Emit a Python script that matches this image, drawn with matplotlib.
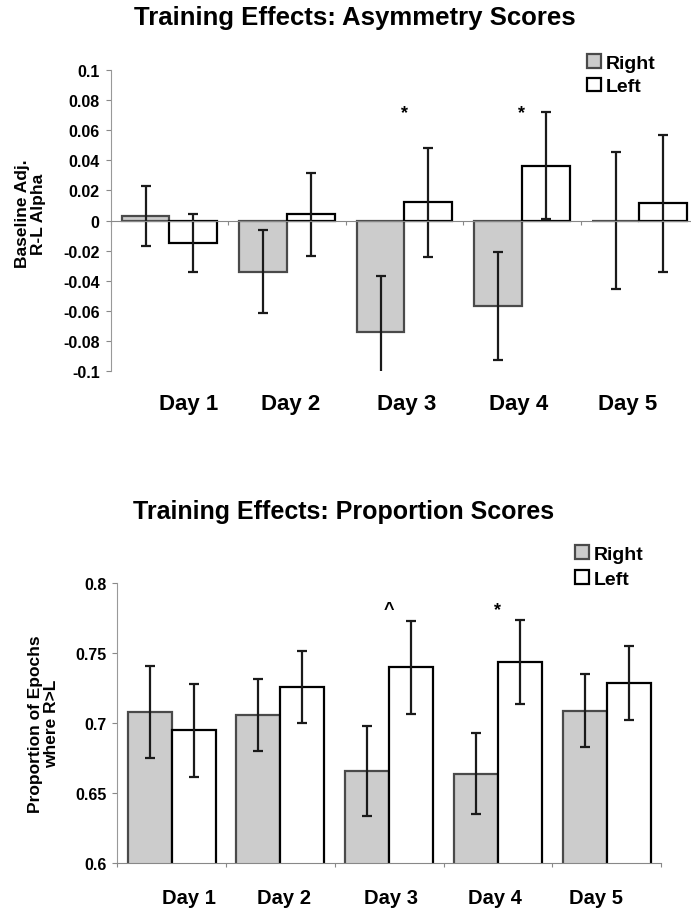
import numpy as np
import matplotlib
matplotlib.use('Agg')
import matplotlib.pyplot as plt
from matplotlib.ticker import FuncFormatter

plt.rcParams['font.family'] = ['Liberation Sans', 'DejaVu Sans']
plt.rcParams['font.weight'] = 'bold'
plt.rcParams['axes.labelweight'] = 'bold'

# data
days = ['Day 1', 'Day 2', 'Day 3', 'Day 4', 'Day 5']
series = ['Right', 'Left']

asym_right = [0.003, -0.034, -0.074, -0.057, 0.0]
asym_right_err = [0.020, 0.0275, 0.037, 0.036, 0.0455]
asym_left = [-0.015, 0.004, 0.012, 0.0365, 0.0115]
asym_left_err = [0.0195, 0.0275, 0.0365, 0.0355, 0.0455]
asym_marks = ['', '', '*', '*', '']
asym_ticks = [0.1, 0.08, 0.06, 0.04, 0.02, 0, -0.02, -0.04, -0.06, -0.08, -0.1]

prop_right = [0.708, 0.706, 0.666, 0.664, 0.709]
prop_right_err = [0.033, 0.026, 0.032, 0.029, 0.026]
prop_left = [0.695, 0.726, 0.740, 0.744, 0.729]
prop_left_err = [0.033, 0.026, 0.033, 0.030, 0.0265]
prop_marks = ['', '', '^', '*', '']
prop_ticks = [0.8, 0.75, 0.7, 0.65, 0.6]

GREY = '#cccccc'
W = 0.405


def fmt(v, pos):
    if abs(v) < 1e-9:
        return '0'
    return f'{round(v, 3):g}'


def draw(ax, right, rerr, left, lerr, marks, mark_y, ticks, ylabel,
         label_y, day_size):
    x = np.arange(len(days))
    ekw = dict(ecolor='#1a1a1a', elinewidth=1.6, capsize=3.5, capthick=1.6)
    ax.bar(x - W / 2, right, W, yerr=rerr, color=GREY, edgecolor='#4a4a4a',
           linewidth=1.6, error_kw=ekw, label=series[0], zorder=2)
    ax.bar(x + W / 2, left, W, yerr=lerr, color='white', edgecolor='black',
           linewidth=1.6, error_kw=ekw, label=series[1], zorder=2)
    for i, m in enumerate(marks):
        if m:
            ax.text(x[i], mark_y, m, ha='center', va='center', fontsize=13)

    ax.set_xlim(-0.5, len(days) - 0.5)
    ax.set_xticks(np.arange(-0.5, len(days)), labels=[])
    ax.tick_params(axis='x', direction='out', length=3, color='#888888')
    # category labels sit slightly off the group centres in the original
    nudge = [0.16, 0.03, 0.02, -0.03, -0.1]
    for i, d in enumerate(days):
        ax.text(x[i] + nudge[i], label_y, d, transform=ax.get_xaxis_transform(),
                ha='center', va='baseline', fontsize=day_size)

    ax.set_ylim(min(ticks), max(ticks))
    ax.set_yticks(ticks)
    ax.yaxis.set_major_formatter(FuncFormatter(fmt))
    ax.tick_params(axis='y', direction='out', length=3.4, width=0.8,
                   color='#888888', labelsize=11.5, pad=4.5)
    ax.set_ylabel(ylabel, fontsize=12.5, fontweight='bold', linespacing=1.1)

    for s in ['top', 'right']:
        ax.spines[s].set_visible(False)
    ax.spines['left'].set_color('#999999')
    ax.spines['bottom'].set_color('#888888')
    ax.patch.set_visible(False)


fig = plt.figure(figsize=(6.91, 9.12), dpi=100)

ax1 = fig.add_axes([110.7 / 691, (912 - 372) / 912, 587.5 / 691, 301 / 912])
draw(ax1, asym_right, asym_right_err, asym_left, asym_left_err,
     asym_marks, 0.072, asym_ticks, 'Baseline Adj.\nR-L Alpha', -0.126, 16)
ax1.spines['bottom'].set_position(('data', 0))
ax1.yaxis.set_label_coords(-0.11, 0.525)

ax2 = fig.add_axes([117.3 / 691, (912 - 864.3) / 912, 543.7 / 691, 280 / 912])
draw(ax2, prop_right, prop_right_err, prop_left, prop_left_err,
     prop_marks, 0.781, prop_ticks, 'Proportion of Epochs\nwhere R>L', -0.142,
     14.5)
ax2.yaxis.set_label_coords(-0.107, 0.5)

fig.text(355 / 691, 1 - 25 / 912, 'Training Effects: Asymmetry Scores',
         ha='center', va='baseline', fontsize=18.5)
fig.text(344 / 691, 1 - 519 / 912, 'Training Effects: Proportion Scores',
         ha='center', va='baseline', fontsize=18)

leg_kw = dict(loc='upper left', frameon=False, fontsize=14, borderpad=0,
              borderaxespad=0, handlelength=0.72, handleheight=0.72,
              handletextpad=0.25)
h, l = ax1.get_legend_handles_labels()
fig.legend(h, l, bbox_to_anchor=(587 / 691, 1 - 55 / 912), labelspacing=0.3,
           **leg_kw)
h, l = ax2.get_legend_handles_labels()
fig.legend(h, l, bbox_to_anchor=(575 / 691, 1 - 546 / 912), labelspacing=0.38,
           **leg_kw)

fig.savefig('out.png', dpi=100)
